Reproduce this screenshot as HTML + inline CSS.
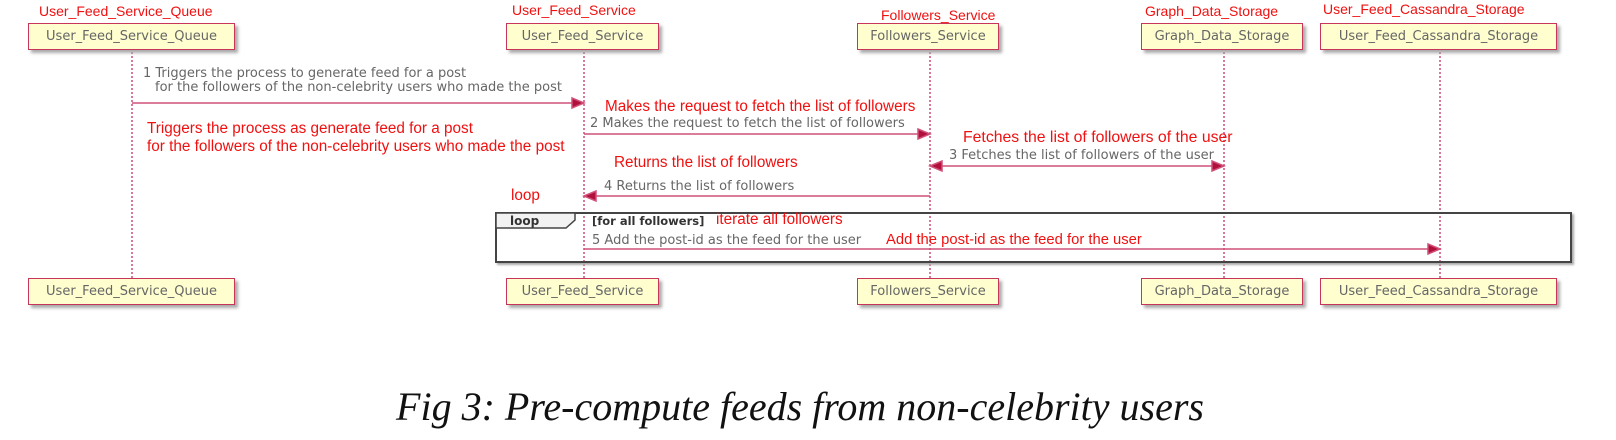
<!DOCTYPE html>
<html><head><meta charset="utf-8"><style>
body{margin:0;width:1616px;height:440px;background:#fff;overflow:hidden;position:relative;font-family:"Liberation Sans",sans-serif}
.r{position:absolute;color:#f01010;font-size:15.3px;white-space:nowrap;line-height:17px}
.g{position:absolute;color:#666;font-family:"DejaVu Sans",sans-serif;font-size:13px;white-space:nowrap;line-height:14px}
.box{position:absolute;background:#fefecf;border:1.5px solid #c8355a;box-shadow:3px 3px 3px #aaa;color:#666;font-family:"DejaVu Sans",sans-serif;font-size:13px;display:flex;align-items:center;justify-content:center;height:27px;box-sizing:border-box;white-space:nowrap}
.ll{position:absolute;top:52px;height:226px;border-left:2px dotted #d8789a;width:0}
</style></head><body>
<div class="ll" style="left:131px"></div>
<div class="ll" style="left:583px"></div>
<div class="ll" style="left:929px"></div>
<div class="ll" style="left:1223px"></div>
<div class="ll" style="left:1439px"></div>

<div class="box" style="left:28px;top:23px;width:207px">User_Feed_Service_Queue</div>
<div class="box" style="left:506px;top:23px;width:153px">User_Feed_Service</div>
<div class="box" style="left:857px;top:23px;width:142px">Followers_Service</div>
<div class="box" style="left:1141px;top:23px;width:162px">Graph_Data_Storage</div>
<div class="box" style="left:1320px;top:23px;width:237px">User_Feed_Cassandra_Storage</div>
<div class="box" style="left:28px;top:278px;width:207px">User_Feed_Service_Queue</div>
<div class="box" style="left:506px;top:278px;width:153px">User_Feed_Service</div>
<div class="box" style="left:857px;top:278px;width:142px">Followers_Service</div>
<div class="box" style="left:1141px;top:278px;width:162px">Graph_Data_Storage</div>
<div class="box" style="left:1320px;top:278px;width:237px">User_Feed_Cassandra_Storage</div>

<div style="position:absolute;left:495px;top:212px;width:1077px;height:51px;border:2.5px solid #444;box-sizing:border-box;box-shadow:2px 2px 2px #aaa"></div>
<svg style="position:absolute;left:0;top:0" width="1616" height="440">
<path d="M496 213 H575 V220 L566 228 H496 Z" fill="#f2f2f2" stroke="#444" stroke-width="1.5"/>
<g stroke="#d0507a" stroke-width="1.5" fill="#b0103a">
<line x1="132" y1="103" x2="578" y2="103"/><polygon points="584,103 572,98 572,108"/>
<line x1="584" y1="134" x2="924" y2="134"/><polygon points="930,134 918,129 918,139"/>
<line x1="936" y1="166" x2="1218" y2="166"/><polygon points="930,166 942,161 942,171"/><polygon points="1224,166 1212,161 1212,171"/>
<line x1="590" y1="196" x2="930" y2="196"/><polygon points="584,196 596,191 596,201"/>
<line x1="584" y1="249" x2="1434" y2="249"/><polygon points="1440,249 1428,244 1428,254"/>
</g>
</svg>
<div class="g" style="left:510px;top:214px;color:#333;font-weight:bold;font-size:12px">loop</div>
<div class="g" style="left:592px;top:214px;color:#333;font-weight:bold;font-size:11.5px">[for all followers]</div>
<div class="r" style="left:716px;top:211px">iterate all followers</div>

<div class="g" style="left:143px;top:67px">1 Triggers the process to generate feed for a post</div>
<div class="g" style="left:155px;top:81px">for the followers of the non-celebrity users who made the post</div>
<div class="g" style="left:590px;top:117px">2 Makes the request to fetch the list of followers</div>
<div class="g" style="left:949px;top:149px">3 Fetches the list of followers of the user</div>
<div class="g" style="left:604px;top:180px">4 Returns the list of followers</div>
<div class="g" style="left:592px;top:234px">5 Add the post-id as the feed for the user</div>

<div class="r" style="left:39px;top:3px;font-size:14px">User_Feed_Service_Queue</div>
<div class="r" style="left:512px;top:2px;font-size:14px">User_Feed_Service</div>
<div class="r" style="left:881px;top:7px;font-size:14px">Followers_Service</div>
<div class="r" style="left:1145px;top:3px;font-size:14px">Graph_Data_Storage</div>
<div class="r" style="left:1323px;top:1px;font-size:14px">User_Feed_Cassandra_Storage</div>
<div class="r" style="left:147px;top:120px">Triggers the process as generate feed for a post</div>
<div class="r" style="left:147px;top:138px">for the followers of the non-celebrity users who made the post</div>
<div class="r" style="left:605px;top:98px">Makes the request to fetch the list of followers</div>
<div class="r" style="left:963px;top:129px;font-size:15.8px">Fetches the list of followers of the user</div>
<div class="r" style="left:614px;top:154px">Returns the list of followers</div>
<div class="r" style="left:511px;top:187px">loop</div>
<div class="r" style="left:886px;top:232px;font-size:14.8px">Add the post-id as the feed for the user</div>

<div style="position:absolute;left:0;width:1600px;text-align:center;top:383px;font-family:'Liberation Serif',serif;font-style:italic;font-size:40px;color:#111">Fig 3: Pre-compute feeds from non-celebrity users</div>
</body></html>
